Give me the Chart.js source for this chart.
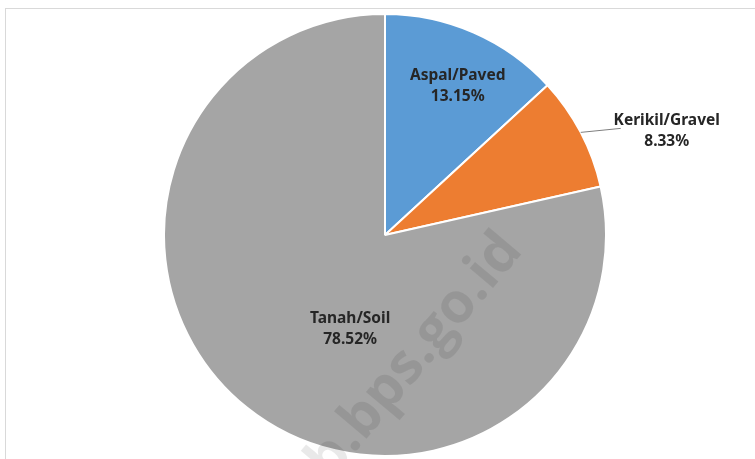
<!DOCTYPE html>
<html>
<head>
<meta charset="utf-8">
<script src="https://cdn.jsdelivr.net/npm/chart.js@4/dist/chart.umd.min.js"></script>
<style>
  html, body { margin: 0; padding: 0; background: #fff; overflow: hidden; }
  #wrap { position: relative; width: 755px; height: 459px; }
  #frame { position: absolute; left: 5px; top: 8px; width: 800px; height: 500px;
           border-left: 1px solid #d9d9d9; border-top: 1px solid #d9d9d9; }
  canvas { position: absolute; left: 0; top: 0; }
</style>
</head>
<body>
<div id="wrap">
  <div id="frame"></div>
  <canvas id="chart" width="755" height="459"></canvas>
</div>
<script>
/* Road surface share - pie */
const categories = ['Aspal/Paved', 'Kerikil/Gravel', 'Tanah/Soil'];
const shares = [13.15, 8.33, 78.52];
const sliceColors = ['#5b9bd5', '#ed7d31', '#a5a5a5'];

// label placement: fraction along the arc, fraction of radius; outside = leader line
const labelSpots = [
    { along: 0.55, radial: 0.75, outside: false },
    { along: 0.5, radial: 1.0, outside: true },
    { along: 0.435, radial: 0.455, outside: false },
];

const FONT = 'bold 15.5px "Noto Sans", "Open Sans", sans-serif';
const LINE_GAP = 21;

const watermark = {
    id: 'watermark',
    afterDatasetsDraw(chart) {
        const ctx = chart.ctx;
        ctx.save();
        ctx.translate(524, 251);
        ctx.rotate(-50 * Math.PI / 180);
        ctx.font = 'bold 56px "Open Sans", sans-serif';
        ctx.fillStyle = 'rgba(0,0,0,0.085)';
        ctx.textAlign = 'right';
        ctx.textBaseline = 'alphabetic';
        ctx.fillText('https://kab.bps.go.id', 0, 0);
        ctx.restore();
    }
};

const sliceLabels = {
    id: 'sliceLabels',
    afterDraw(chart) {
        const ctx = chart.ctx;
        const arcs = chart.getDatasetMeta(0).data;
        ctx.save();
        ctx.font = FONT;
        ctx.fillStyle = '#262626';
        ctx.textAlign = 'center';
        ctx.textBaseline = 'middle';
        arcs.forEach((arc, i) => {
            const spot = labelSpots[i];
            const a = arc.startAngle + (arc.endAngle - arc.startAngle) * spot.along;
            const text = [categories[i], shares[i].toFixed(2) + '%'];
            if (spot.outside) {
                const x0 = arc.x + Math.cos(a) * arc.outerRadius;
                const y0 = arc.y + Math.sin(a) * arc.outerRadius;
                const x1 = x0 + 40;
                const y1 = y0 - 4;
                ctx.strokeStyle = '#7f7f7f';
                ctx.lineWidth = 1;
                ctx.beginPath();
                ctx.moveTo(x0, y0);
                ctx.lineTo(x1, y1);
                ctx.stroke();
                const cx = x1 + 46;
                ctx.fillText(text[0], cx, y1 - 8);
                ctx.fillText(text[1], cx, y1 - 8 + LINE_GAP);
            } else {
                const r = arc.outerRadius * spot.radial;
                const cx = arc.x + Math.cos(a) * r;
                const cy = arc.y + Math.sin(a) * r;
                ctx.fillText(text[0], cx, cy - LINE_GAP / 2);
                ctx.fillText(text[1], cx, cy + LINE_GAP / 2);
            }
        });
        ctx.restore();
    }
};

new Chart(document.getElementById('chart'), {
    type: 'pie',
    data: {
        labels: categories,
        datasets: [{
            data: shares,
            backgroundColor: sliceColors,
            borderColor: '#ffffff',
            borderWidth: 2,
        }]
    },
    options: {
        responsive: false,
        animation: false,
        layout: { padding: { left: 163, right: 148, top: 13, bottom: 2 } },
        plugins: {
            legend: { display: false },
            tooltip: { enabled: false },
        }
    },
    plugins: [watermark, sliceLabels]
});
</script>
</body>
</html>
